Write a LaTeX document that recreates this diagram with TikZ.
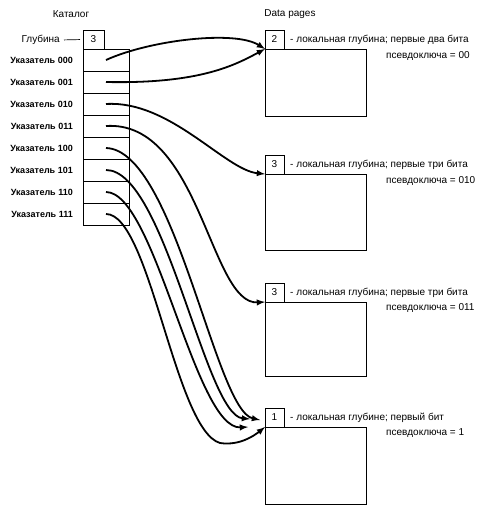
\documentclass[tikz,border=0pt]{standalone}
\usepackage{fontspec}
\setmainfont{Liberation Sans}
\usetikzlibrary{calc}
\tikzset{
  cell/.style={draw, line width=0.7pt, minimum width=46pt, minimum height=22pt, inner sep=0pt, outer sep=0pt},
  depthbox/.style={draw, line width=0.7pt, minimum width=19pt, minimum height=19pt, inner sep=0pt, outer sep=0pt, anchor=south west, font=\fontsize{10}{11}\selectfont},
  pagebox/.style={draw, line width=0.9pt, minimum width=101pt, inner sep=0pt, outer sep=0pt, anchor=north west},
  rowlabel/.style={anchor=east, inner sep=0pt, font=\fontsize{9}{10}\selectfont\bfseries},
  note/.style={anchor=west, inner sep=0pt, font=\fontsize{10}{11}\selectfont},
  link/.style={line width=1.8pt, -latex},
}
\begin{document}
\begin{tikzpicture}[x=1pt, y=-1pt]
\useasboundingbox (0,0) rectangle (491,512);
\node[note, anchor=center] (cattitle) at (71,14) {Каталог};
\node[note, anchor=center] (pagetitle) at (290,14) {Data pages};

% directory
\node[cell, minimum width=21pt, minimum height=19pt, anchor=south west, font=\fontsize{10}{11}\selectfont] (cdepth) at (83,49) {3};
\node[note, anchor=east] (glab) at (60,40) {Глубина};
\draw[line width=0.7pt, shorten <=4pt, shorten >=3pt] (glab.east) -- (cdepth.west);
\foreach \i/\b in {0/000,1/001,2/010,3/011,4/100,5/101,6/110,7/111} {
  \node[cell, anchor=north west] (p\i) at (83,49+22*\i) {};
  \node[rowlabel] (l\i) at (73,60+22*\i) {Указатель \b};
}

% data pages
\node[pagebox, minimum height=67pt] (page1) at (265,49) {};
\node[depthbox] (d1) at (page1.north west) {2};
\node[note] (n1) at ($(d1.east)+(6,0)$) {- локальная глубина; первые два бита};
\node[note] (k1) at (386,56) {псевдоключа = 00};

\node[pagebox, minimum height=76pt] (page2) at (265,174) {};
\node[depthbox] (d2) at (page2.north west) {3};
\node[note] (n2) at ($(d2.east)+(6,0)$) {- локальная глубина; первые три бита};
\node[note] (k2) at (386,181) {псевдоключа = 010};

\node[pagebox, minimum height=74pt] (page3) at (265,302) {};
\node[depthbox] (d3) at (page3.north west) {3};
\node[note] (n3) at ($(d3.east)+(6,0)$) {- локальная глубина; первые три бита};
\node[note] (k3) at (386,308) {псевдоключа = 011};

\node[pagebox, minimum height=77pt] (page4) at (265,427) {};
\node[depthbox] (d4) at (page4.north west) {1};
\node[note] (n4) at ($(d4.east)+(6,0)$) {- локальная глубине; первый бит};
\node[note] (k4) at (386,433) {псевдоключа = 1};

\coordinate (e4a) at ($(page4.north west)+(-5,-7)$);
\coordinate (e4b) at ($(page4.north west)+(-15,-8)$);
\coordinate (e4c) at ($(page4.north west)+(-17,0)$);

% pointers
\draw[link] (p0.center) .. controls (150,40) and (235,30) .. (page1.north west);
\draw[link] (p1.center) .. controls (200,84) and (235,65) .. (page1.north west);
\draw[link] (p2.center) .. controls (170,100) and (225,170) .. (page2.north west);
\draw[link] (p3.center) .. controls (200,120) and (210,305) .. (page3.north west);
\draw[link] (p4.center) .. controls (175,150) and (215,410) .. (e4a);
\draw[link] (p5.center) .. controls (165,170) and (205,415) .. (e4b);
\draw[link] (p6.center) .. controls (155,192) and (195,430) .. (e4c);
\draw[link] (p7.center) .. controls (150,214) and (175,430) .. (220,443) .. controls (240,446) and (255,435) .. (page4.north west);
\end{tikzpicture}
\end{document}
